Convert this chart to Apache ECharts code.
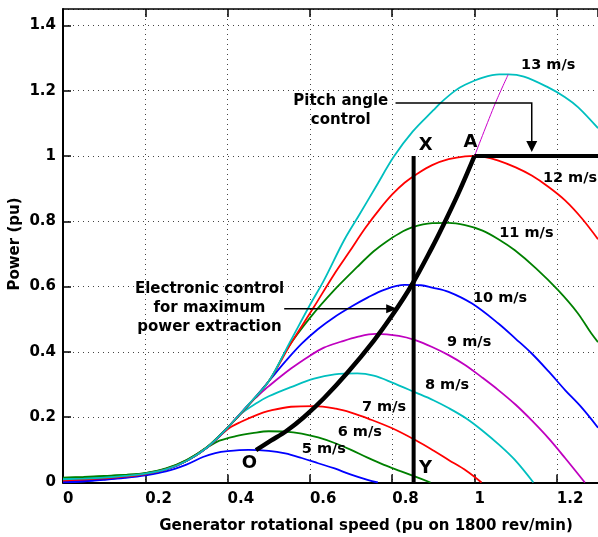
<!DOCTYPE html>
<html>
<head>
<meta charset="utf-8">
<script src="https://cdn.jsdelivr.net/npm/echarts@6/dist/echarts.min.js"></script>
<style>
  html, body { margin: 0; padding: 0; background: #ffffff; }
  #chart { width: 598px; height: 537px; }
</style>
</head>
<body>
<div id="chart"></div>
<script>
// Turbine power [generator speed (pu), power (pu)] for each wind speed
const wind5 = [[0,0],[0.05,0.003],[0.1,0.008],[0.15,0.014],[0.2,0.022],[0.25,0.034],[0.3,0.055],[0.34,0.078],[0.37,0.09],[0.4,0.096],[0.45,0.1],[0.5,0.097],[0.54,0.089],[0.58,0.075],[0.62,0.059],[0.66,0.043],[0.7,0.024],[0.74,0.008],[0.765,0]];
const wind6 = [[0,0.014],[0.05,0.016],[0.1,0.019],[0.15,0.023],[0.2,0.029],[0.25,0.042],[0.3,0.068],[0.35,0.107],[0.38,0.128],[0.42,0.142],[0.46,0.151],[0.5,0.157],[0.54,0.156],[0.58,0.15],[0.62,0.138],[0.66,0.121],[0.7,0.1],[0.74,0.076],[0.78,0.054],[0.82,0.035],[0.856,0.018],[0.893,0]];
const wind7 = [[0,0.006],[0.05,0.009],[0.1,0.013],[0.15,0.018],[0.2,0.026],[0.25,0.04],[0.3,0.066],[0.35,0.107],[0.4,0.163],[0.433,0.186],[0.473,0.208],[0.5,0.219],[0.554,0.232],[0.61,0.234],[0.663,0.226],[0.7,0.214],[0.743,0.195],[0.8,0.166],[0.856,0.13],[0.9,0.098],[0.937,0.069],[0.98,0.036],[1.017,0]];
const wind8 = [[0,0.01],[0.05,0.012],[0.1,0.015],[0.15,0.02],[0.2,0.027],[0.25,0.04],[0.3,0.066],[0.35,0.107],[0.4,0.168],[0.43,0.208],[0.473,0.245],[0.5,0.264],[0.554,0.292],[0.61,0.318],[0.66,0.331],[0.715,0.334],[0.755,0.327],[0.8,0.306],[0.856,0.276],[0.9,0.252],[0.937,0.228],[0.98,0.196],[1.018,0.16],[1.06,0.115],[1.098,0.069],[1.143,0]];
const wind9 = [[0,0.004],[0.05,0.007],[0.1,0.012],[0.15,0.018],[0.2,0.026],[0.25,0.04],[0.3,0.066],[0.35,0.107],[0.4,0.168],[0.45,0.238],[0.473,0.265],[0.5,0.295],[0.554,0.349],[0.602,0.39],[0.634,0.413],[0.675,0.431],[0.715,0.446],[0.76,0.455],[0.816,0.449],[0.856,0.436],[0.897,0.415],[0.937,0.39],[0.977,0.36],[1.018,0.322],[1.058,0.283],[1.1,0.238],[1.139,0.19],[1.18,0.135],[1.22,0.075],[1.268,0]];
const wind10 = [[0,0.002],[0.05,0.005],[0.1,0.01],[0.15,0.016],[0.2,0.025],[0.25,0.039],[0.3,0.066],[0.35,0.107],[0.4,0.168],[0.45,0.236],[0.5,0.31],[0.54,0.37],[0.58,0.425],[0.62,0.47],[0.66,0.507],[0.7,0.538],[0.74,0.566],[0.78,0.59],[0.83,0.605],[0.87,0.604],[0.897,0.597],[0.937,0.584],[0.994,0.548],[1.058,0.487],[1.1,0.44],[1.139,0.395],[1.18,0.34],[1.22,0.283],[1.26,0.23],[1.3,0.168]];
const wind11 = [[0,0.015],[0.05,0.017],[0.1,0.02],[0.15,0.023],[0.2,0.029],[0.25,0.043],[0.3,0.069],[0.35,0.109],[0.4,0.168],[0.45,0.236],[0.5,0.31],[0.546,0.412],[0.602,0.507],[0.659,0.589],[0.715,0.66],[0.755,0.708],[0.784,0.736],[0.816,0.762],[0.848,0.781],[0.897,0.794],[0.937,0.795],[0.977,0.788],[1.018,0.772],[1.058,0.745],[1.098,0.711],[1.15,0.655],[1.203,0.589],[1.25,0.52],[1.284,0.456],[1.3,0.43]];
const wind12 = [[0,0.006],[0.05,0.009],[0.1,0.013],[0.15,0.018],[0.2,0.026],[0.25,0.04],[0.3,0.066],[0.35,0.107],[0.4,0.168],[0.45,0.236],[0.5,0.31],[0.554,0.426],[0.61,0.538],[0.659,0.638],[0.695,0.705],[0.735,0.78],[0.77,0.838],[0.8,0.882],[0.83,0.918],[0.86,0.945],[0.897,0.972],[0.937,0.99],[0.977,0.999],[1.0,1.0],[1.02,0.998],[1.058,0.986],[1.1,0.965],[1.139,0.94],[1.18,0.905],[1.22,0.864],[1.26,0.81],[1.3,0.745]];
const wind13 = [[0,0.01],[0.05,0.012],[0.1,0.015],[0.15,0.02],[0.2,0.027],[0.25,0.04],[0.3,0.066],[0.35,0.107],[0.4,0.168],[0.45,0.238],[0.5,0.31],[0.554,0.436],[0.602,0.548],[0.634,0.619],[0.683,0.742],[0.72,0.82],[0.76,0.905],[0.804,0.998],[0.85,1.075],[0.9,1.14],[0.917,1.162],[0.953,1.2],[0.977,1.218],[1.02,1.24],[1.06,1.25],[1.082,1.25],[1.12,1.243],[1.179,1.21],[1.22,1.18],[1.252,1.149],[1.3,1.085]];

// Maximum power extraction path O -> A, its extension, pitch limit and line X-Y
const optimumLocus = [[0.469,0.099],[0.505,0.128],[0.542,0.157],[0.585,0.2],[0.634,0.258],[0.691,0.336],[0.755,0.434],[0.8,0.512],[0.847,0.604],[0.897,0.72],[0.921,0.78],[0.961,0.886],[1.0,1.0]];
const locusExtension = [[1.0,1.0],[1.05,1.16],[1.082,1.25]];
const pitchLimit = [[1.0,1.0],[1.3,1.0]];
const lineXY = [[0.852,0],[0.852,1.0]];

const windNames = ['5 m/s','6 m/s','7 m/s','8 m/s','9 m/s','10 m/s','11 m/s','12 m/s','13 m/s'];
const windData = [wind5, wind6, wind7, wind8, wind9, wind10, wind11, wind12, wind13];

// Styling and label placement (data coordinates)
const curveColors = ['#0000ff','#008000','#ff0000','#00bfbf','#bf00bf','#0000ff','#008000','#ff0000','#00bfbf'];
const windLabelAt = [[0.634,0.103],[0.721,0.155],[0.78,0.232],[0.933,0.298],[0.987,0.431],[1.062,0.564],[1.126,0.763],[1.232,0.931],[1.179,1.278]];
const pointLabels = [['X',0.881,1.033],['A',0.99,1.043],['Y',0.881,0.043],['O',0.453,0.059]];

const FONT = '"DejaVu Sans", Verdana, sans-serif';
const chart = echarts.init(document.getElementById('chart'), null, { renderer: 'canvas' });

const series = windData.map((d, i) => ({
  name: windNames[i],
  type: 'line',
  data: d,
  showSymbol: false,
  smooth: 0.35,
  lineStyle: { color: curveColors[i], width: 1.8 },
  z: 2 + i
}));
series.push({
  type: 'line', data: locusExtension, showSymbol: false, smooth: 0.3,
  lineStyle: { color: '#cc00cc', width: 1 }, z: 20
});
series.push({
  type: 'line', data: optimumLocus, showSymbol: false, smooth: 0.35,
  lineStyle: { color: '#000', width: 4.5 }, z: 21
});
series.push({
  type: 'line', data: pitchLimit, showSymbol: false,
  lineStyle: { color: '#000', width: 4 }, z: 21
});
series.push({
  type: 'line', data: lineXY, showSymbol: false,
  lineStyle: { color: '#000', width: 4 }, z: 21
});

const gridLine = { show: true, lineStyle: { color: '#444', width: 1, type: [1, 4] } };
const labelFont = { color: '#000', fontFamily: FONT, fontWeight: 'bold', fontSize: 15 };

chart.setOption({
  animation: false,
  backgroundColor: '#ffffff',
  grid: { left: 63, top: 9, right: -2, bottom: 54.5, containLabel: false },
  xAxis: [{
    type: 'value', min: 0, max: 1.3, interval: 0.2, position: 'bottom',
    axisLine: { show: true, onZero: false, lineStyle: { color: '#000', width: 2 } },
    axisTick: { show: true, inside: true, length: 8, lineStyle: { color: '#000', width: 1.5 } },
    axisLabel: Object.assign({ margin: 9, align: 'left', showMaxLabel: false }, labelFont),
    splitLine: gridLine
  }, {
    type: 'value', min: 0, max: 1.3, interval: 0.2, position: 'top',
    axisLine: { show: true, onZero: false, lineStyle: { color: '#000', width: 1.5 } },
    axisTick: { show: true, inside: true, length: 8, lineStyle: { color: '#000', width: 1.5 } },
    axisLabel: { show: false }, splitLine: { show: false }
  }],
  yAxis: [{
    type: 'value', min: 0, max: 1.45, interval: 0.2,
    axisLine: { show: true, onZero: false, lineStyle: { color: '#000', width: 2 } },
    axisTick: { show: true, inside: true, length: 8, lineStyle: { color: '#000', width: 1.5 } },
    axisLabel: Object.assign({ margin: 7, showMaxLabel: false }, labelFont),
    splitLine: gridLine
  }],
  series: series
});

// Annotations placed in data coordinates
function px(x, y) { return chart.convertToPixel({ gridIndex: 0 }, [x, y]); }
function txt(text, p, size, extra) {
  return {
    type: 'text', x: p[0], y: p[1], z: 100,
    style: Object.assign({
      text: text, fill: '#000', align: 'center', verticalAlign: 'middle',
      font: 'bold ' + size + 'px ' + FONT, lineHeight: 19
    }, extra || {})
  };
}

const graphics = [];
windNames.forEach((n, i) => {
  graphics.push(txt(n, px(windLabelAt[i][0], windLabelAt[i][1]), 14.5));
});
pointLabels.forEach(p => graphics.push(txt(p[0], px(p[1], p[2]), 18)));
graphics.push(txt('Pitch angle\ncontrol', px(0.675, 1.14), 15));
graphics.push(txt('Electronic control\nfor maximum\npower extraction', px(0.356, 0.535), 15));

// Pitch control arrow: right then down onto the 1 pu limit
const pa0 = px(0.808, 1.162), pa1 = px(1.139, 1.162), paTip = px(1.139, 1.012);
graphics.push({
  type: 'polyline', z: 100,
  shape: { points: [pa0, pa1, [paTip[0], paTip[1] - 9]] },
  style: { stroke: '#000', lineWidth: 1.5, fill: null }
});
graphics.push({
  type: 'polygon', z: 100,
  shape: { points: [[paTip[0] - 5.5, paTip[1] - 11], [paTip[0] + 5.5, paTip[1] - 11], paTip] },
  style: { fill: '#000' }
});

// Electronic control arrow pointing at the optimum path
const ea0 = px(0.5375, 0.532), eaTip = px(0.812, 0.532);
graphics.push({
  type: 'line', z: 100,
  shape: { x1: ea0[0], y1: ea0[1], x2: eaTip[0] - 9, y2: eaTip[1] },
  style: { stroke: '#000', lineWidth: 1.5 }
});
graphics.push({
  type: 'polygon', z: 100,
  shape: { points: [[eaTip[0] - 11, eaTip[1] - 4.5], [eaTip[0] - 11, eaTip[1] + 4.5], eaTip] },
  style: { fill: '#000' }
});

// Axis titles
const yTitle = txt('Power (pu)', [15, 244], 15);
yTitle.rotation = Math.PI / 2;
graphics.push(yTitle);
graphics.push(txt('Generator rotational speed (pu on 1800 rev/min)', [366, 526], 15));

chart.setOption({ graphic: graphics });
</script>
</body>
</html>
